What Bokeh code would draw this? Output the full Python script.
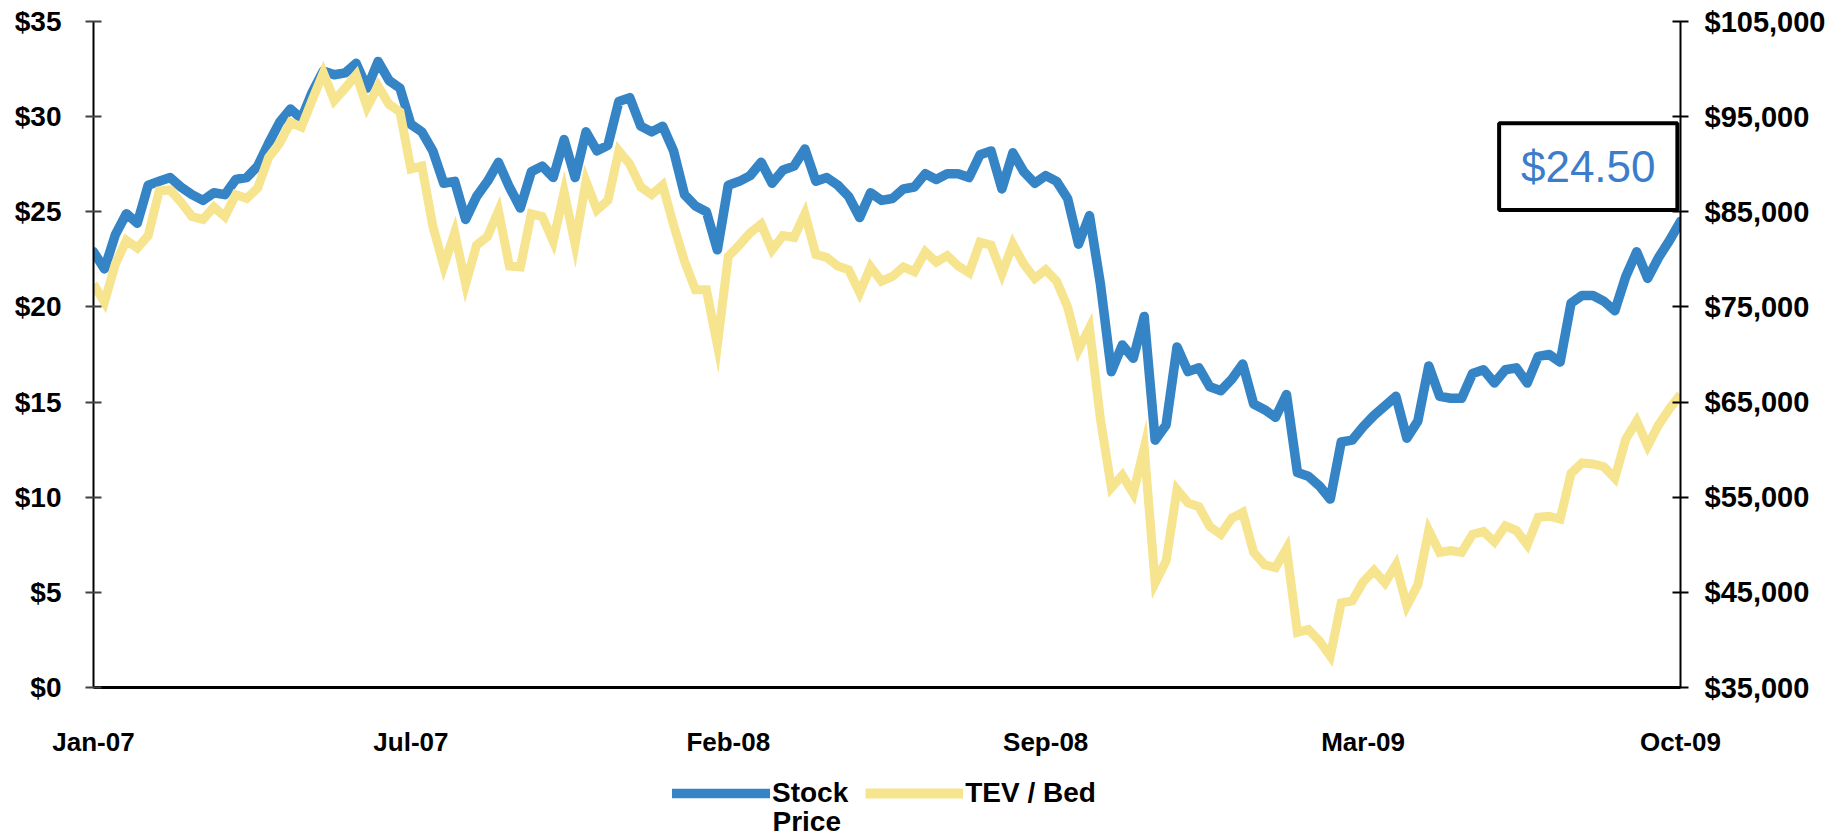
import pandas as pd
from bokeh.plotting import figure
from bokeh.layouts import column
from bokeh.models import (Range1d, LinearAxis, FixedTicker, NumeralTickFormatter,
                          DatetimeTickFormatter, Legend, LegendItem, BoxAnnotation,
                          Label, ColumnDataSource)
from bokeh.core.properties import value
from bokeh.embed import file_html
from bokeh.resources import INLINE

# Weekly closes, Jan 2007 - Oct 2009
week_ending = pd.date_range("2007-01-05", periods=146, freq="W-FRI")

stock_price = [
    22.9, 22.0, 23.8, 24.9, 24.4, 26.4, 26.6, 26.8, 26.3, 25.9,
    25.6, 26.0, 25.9, 26.7, 26.8, 27.4, 28.6, 29.7, 30.4, 29.9,
    31.3, 32.4, 32.2, 32.3, 32.8, 31.5, 32.9, 31.9, 31.5, 29.6,
    29.2, 28.2, 26.5, 26.6, 24.6, 25.8, 26.6, 27.6, 26.3, 25.2,
    27.1, 27.4, 26.8, 28.8, 26.8, 29.2, 28.2, 28.5, 30.8, 31.0,
    29.5, 29.2, 29.5, 28.2, 25.9, 25.3, 25.0, 23.0, 26.4, 26.6,
    26.9, 27.6, 26.5, 27.2, 27.4, 28.3, 26.6, 26.8, 26.4, 25.8,
    24.7, 26.0, 25.6, 25.7, 26.2, 26.3, 27.0, 26.7, 27.0, 27.0,
    26.8, 28.0, 28.2, 26.2, 28.1, 27.1, 26.5, 26.9, 26.6, 25.7,
    23.3, 24.8, 21.2, 16.6, 18.0, 17.3, 19.5, 13.0, 13.8, 17.9,
    16.6, 16.8, 15.8, 15.6, 16.2, 17.0, 14.9, 14.6, 14.2, 15.4,
    11.3, 11.1, 10.6, 9.9, 12.9, 13.0, 13.7, 14.3, 14.8, 15.3,
    13.1, 14.0, 16.9, 15.3, 15.2, 15.2, 16.5, 16.7, 16.0, 16.7,
    16.8, 16.0, 17.4, 17.5, 17.1, 20.2, 20.6, 20.6, 20.3, 19.8,
    21.6, 22.9, 21.5, 22.6, 23.5, 24.5,
]

tev_per_bed = [
    77400, 75500, 79500, 82000, 81200, 82500, 87200, 87300, 86000, 84500,
    84200, 85500, 84500, 86800, 86400, 87500, 90700, 92200, 94400, 93900,
    96800, 99600, 96700, 98000, 99400, 96000, 98200, 96300, 95500, 89500,
    89800, 83500, 79300, 82800, 77400, 81500, 82400, 85100, 79300, 79200,
    84800, 84500, 81900, 87100, 81600, 88200, 85200, 86200, 91400, 90000,
    87600, 86800, 87800, 83600, 79800, 76800, 76800, 71000, 80300, 81500,
    82800, 83700, 81000, 82500, 82300, 84800, 80500, 80200, 79300, 78900,
    76500, 79200, 77700, 78200, 79200, 78700, 80800, 79700, 80400, 79300,
    78600, 81800, 81500, 78500, 81600, 79500, 78000, 78900, 77700, 75000,
    70500, 72800, 63200, 56000, 57300, 55400, 60200, 46000, 48300, 55800,
    54400, 54000, 51900, 51100, 52800, 53400, 49200, 47900, 47600, 49600,
    40800, 41100, 39900, 38300, 43900, 44100, 46100, 47300, 46000, 47900,
    43600, 45800, 51500, 49200, 49400, 49200, 51100, 51400, 50300, 52000,
    51500, 50000, 52900, 53000, 52700, 57500, 58600, 58500, 58200, 57000,
    61100, 63000, 60400, 62600, 64300, 65800,
]

axis_dates = ["2007-01-05", "2007-07-27", "2008-02-15", "2008-09-05",
              "2009-03-27", "2009-10-16"]
price_ticks = [0, 5, 10, 15, 20, 25, 30, 35]
tev_ticks = [35000, 45000, 55000, 65000, 75000, 85000, 95000, 105000]

# callout box around the latest close (dates and price levels)
callout_dates = ["2009-06-22", "2009-10-14"]
callout_levels = [25.1, 29.65]

BLUE = "#3585C6"
YELLOW = "#F6E48F"
FONT = "Liberation Sans"
STOCK_W, TEV_W = 9.5, 9
BORDER_L, BORDER_R = 93, 163

src = ColumnDataSource(dict(date=week_ending, price=stock_price, tev=tev_per_bed))

p = figure(width=1843, height=765, x_axis_type="datetime",
           x_range=Range1d(week_ending[0], week_ending[-1]),
           y_range=Range1d(price_ticks[0], price_ticks[-1]),
           output_backend="svg", toolbar_location=None,
           min_border_left=BORDER_L, min_border_right=BORDER_R,
           min_border_top=21, min_border_bottom=78)
p.extra_y_ranges = {"tev": Range1d(tev_ticks[0], tev_ticks[-1])}
p.grid.visible = False
p.outline_line_color = None
p.background_fill_color = "white"
p.border_fill_color = "white"

stock_r = p.line("date", "price", source=src, line_color=BLUE, line_width=STOCK_W,
                 line_join="round", line_cap="round")
tev_r = p.line("date", "tev", source=src, y_range_name="tev", line_color=YELLOW,
               line_width=TEV_W, line_join="miter", line_cap="butt")

tick_ms = [d.timestamp() * 1000 for d in pd.to_datetime(axis_dates)]
xa = p.xaxis[0]
xa.ticker = FixedTicker(ticks=tick_ms)
xa.formatter = DatetimeTickFormatter(days="%b-%y", months="%b-%y", years="%b-%y")
xa.axis_line_width = 3
xa.axis_line_color = "black"
xa.major_tick_line_color = None
xa.minor_tick_line_color = None
xa.major_label_standoff = 33
xa.major_label_text_font = FONT
xa.major_label_text_font_style = "bold"
xa.major_label_text_font_size = "26px"
xa.major_label_text_color = "black"

ya = p.yaxis[0]
ya.ticker = FixedTicker(ticks=price_ticks)
ya.formatter = NumeralTickFormatter(format="$0")
ya.axis_line_width = 2
ya.axis_line_color = "black"
ya.major_tick_in = 8
ya.major_tick_out = 8
ya.major_tick_line_width = 2
ya.major_tick_line_color = "#404040"
ya.minor_tick_line_color = None
ya.major_label_standoff = 24
ya.major_label_text_font = FONT
ya.major_label_text_font_style = "bold"
ya.major_label_text_font_size = "28px"
ya.major_label_text_color = "black"

ra = LinearAxis(y_range_name="tev", ticker=FixedTicker(ticks=tev_ticks),
                formatter=NumeralTickFormatter(format="$0,0"))
ra.axis_line_width = 2
ra.axis_line_color = "black"
ra.major_tick_in = 8
ra.major_tick_out = 8
ra.major_tick_line_width = 2
ra.major_tick_line_color = "black"
ra.minor_tick_line_color = None
ra.major_label_standoff = 16
ra.major_label_text_font = FONT
ra.major_label_text_font_style = "bold"
ra.major_label_text_font_size = "29px"
ra.major_label_text_color = "black"
p.add_layout(ra, "right")

# callout with the latest stock price
cl = [d.timestamp() * 1000 for d in pd.to_datetime(callout_dates)]
box = BoxAnnotation(left=cl[0], right=cl[1], bottom=callout_levels[0], top=callout_levels[1],
                    fill_color="white", fill_alpha=1.0, line_color="black",
                    line_alpha=1.0, line_width=4)
p.add_layout(box)
p.add_layout(Label(x=(cl[0] + cl[1]) / 2, y=sum(callout_levels) / 2,
                   text=f"${stock_price[-1]:.2f}", text_align="center", text_baseline="middle",
                   text_font=FONT, text_font_size="44px", text_color="#3B7DCB"))

# legend strip under the chart; its frame lines up with the chart frame and
# its x range is in page pixels
page_left, page_right = BORDER_L, 1843 - BORDER_R
key = figure(width=1843, height=73, x_range=Range1d(page_left, page_right), y_range=Range1d(0, 73),
             x_axis_location=None, y_axis_location=None,
             min_border_left=BORDER_L, min_border_right=BORDER_R,
             min_border_top=0, min_border_bottom=0,
             output_backend="svg", toolbar_location=None)
key.grid.visible = False
key.outline_line_color = None
key.background_fill_color = "white"
key.border_fill_color = "white"

# renderers that only carry the line styles for the legend swatches
nan = float("nan")
stock_key = key.line(x=[nan], y=[nan], line_color=BLUE, line_width=STOCK_W, line_cap="round")
tev_key = key.line(x=[nan], y=[nan], line_color=YELLOW, line_width=TEV_W + 1, line_cap="butt")

legend_left = 672
legend = Legend(items=[LegendItem(label=value("Stock"), renderers=[stock_key]),
                       LegendItem(label=value("TEV / Bed"), renderers=[tev_key])],
                orientation="horizontal", location=(legend_left - page_left, 29),
                label_text_font=FONT, label_text_font_style="bold",
                label_text_font_size="28px", label_text_color="black",
                glyph_width=98, glyph_height=30, label_standoff=2, spacing=17,
                padding=0, margin=0, border_line_color=None, background_fill_alpha=0)
key.add_layout(legend)
key.add_layout(Label(x=legend_left + 100, y=17, text="Price", text_baseline="middle",
                     text_font=FONT, text_font_style="bold", text_font_size="28px",
                     text_color="black"))

open("out.html", "w").write(file_html(column(p, key), INLINE))
